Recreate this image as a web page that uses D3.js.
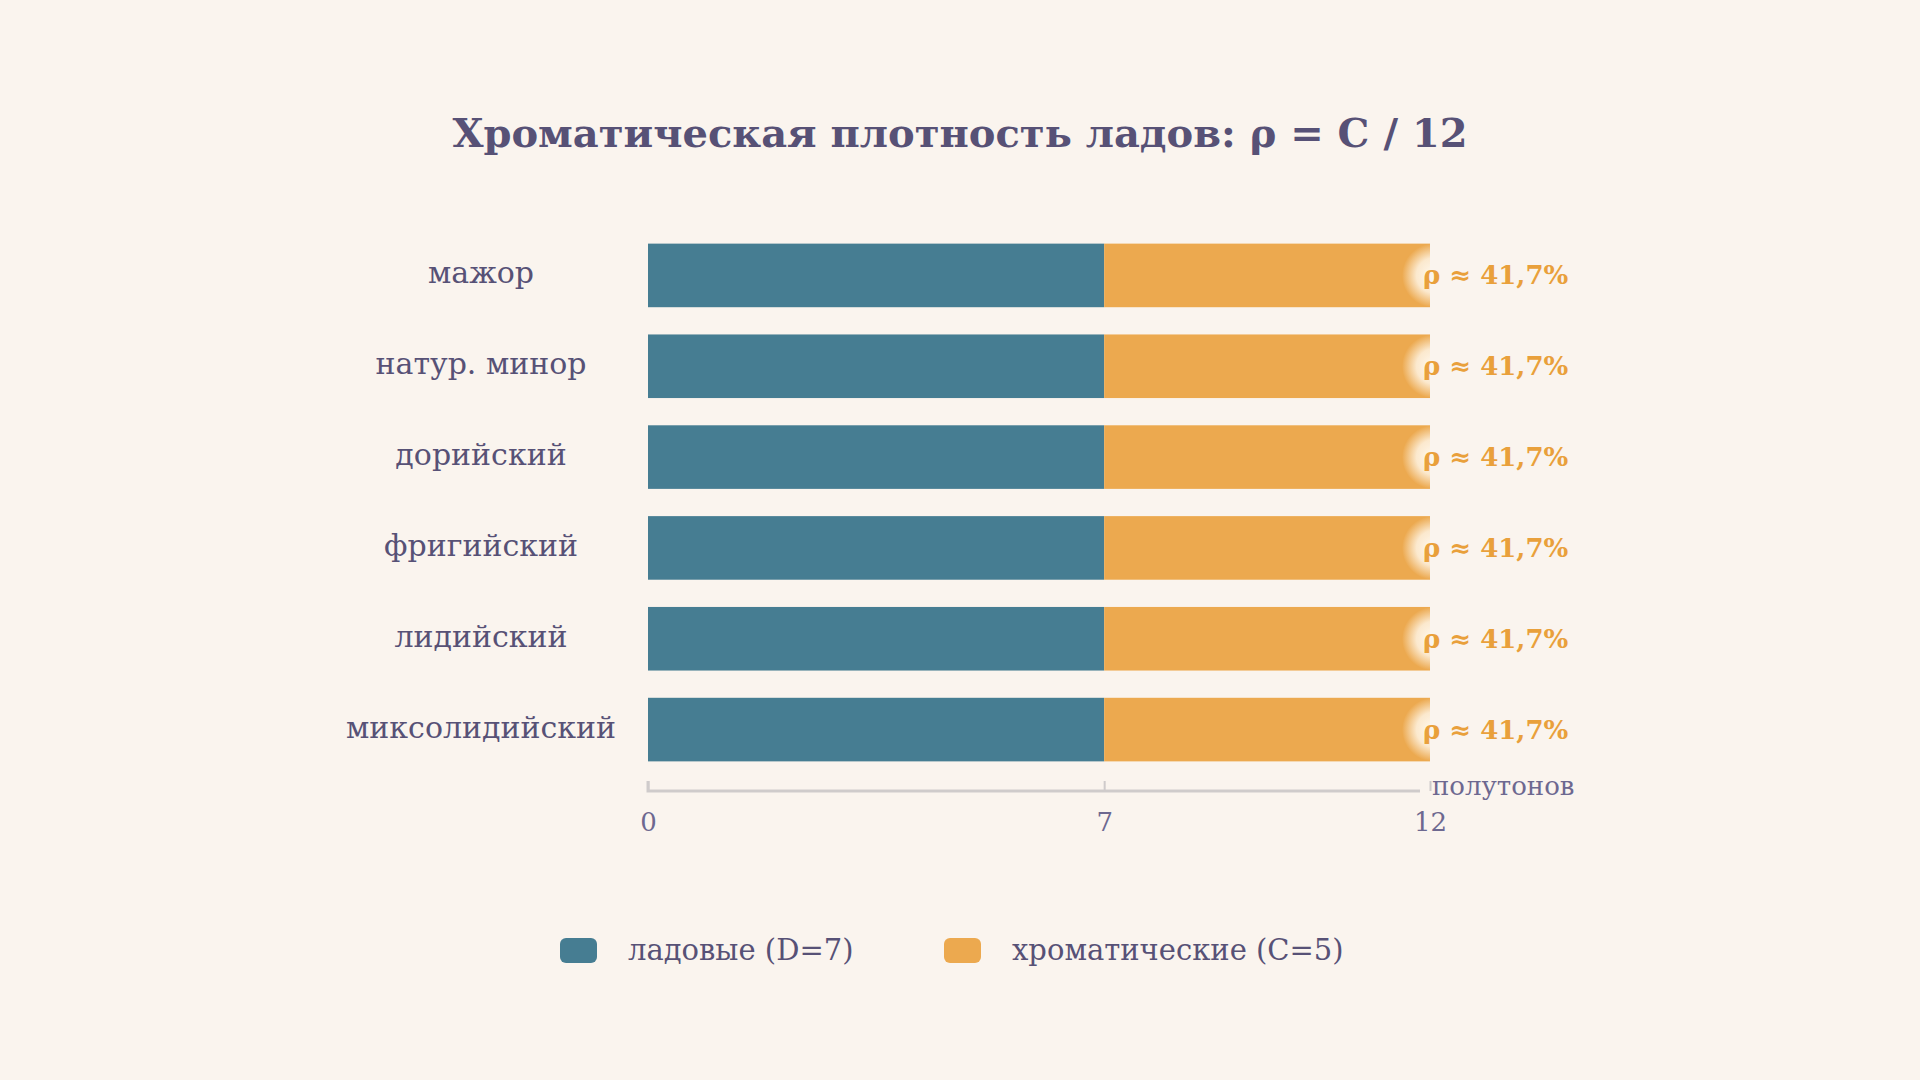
<!DOCTYPE html>
<html><head><meta charset="utf-8">
<script src="https://cdn.jsdelivr.net/npm/d3@7"></script>
<style>
body{margin:0;background:#faf4ee;}
svg{font-family:"DejaVu Serif",serif;}
</style></head>
<body><svg id="chart" width="1920" height="1080"></svg>
<script>
const modes = ["мажор", "натур. минор", "дорийский", "фригийский", "лидийский", "миксолидийский"];
const diatonic = [7, 7, 7, 7, 7, 7];
const chromatic = [5, 5, 5, 5, 5, 5];
const ticks = [0, 7, 12];
const seriesNames = ["ладовые (D=7)", "хроматические (C=5)"];
const colors = ["#467d92", "#eca94f"];
const ink = "#575176";

const svg = d3.select("#chart");
svg.append("rect").attr("width", 1920).attr("height", 1080).attr("fill", "#faf4ee");

const x = d3.scaleLinear().domain([0, 12]).range([648, 1430]);
const y = d3.scaleBand().domain(modes).range([230, 775]).paddingInner(0.3).paddingOuter(0.15);

const grad = svg.append("defs").append("radialGradient").attr("id", "glow");
grad.append("stop").attr("offset", "0%").attr("stop-color", "#fffaf2").attr("stop-opacity", 1);
grad.append("stop").attr("offset", "55%").attr("stop-color", "#fdf0dc").attr("stop-opacity", 0.9);
grad.append("stop").attr("offset", "100%").attr("stop-color", "#fdf0dc").attr("stop-opacity", 0);

svg.append("text").attr("x", 960).attr("y", 147).attr("text-anchor", "middle")
  .attr("font-size", 40).attr("font-weight", "bold").attr("fill", ink)
  .text("Хроматическая плотность ладов: ρ = C / 12");

const rows = modes.map((m, i) => ({ m, d: diatonic[i], c: chromatic[i] }));

const g = svg.append("g");
g.selectAll(".d").data(rows).join("rect")
  .attr("x", x(0)).attr("y", d => y(d.m)).attr("height", y.bandwidth())
  .attr("width", d => x(d.d) - x(0)).attr("fill", colors[0]);
g.selectAll(".c").data(rows).join("rect")
  .attr("x", d => x(d.d)).attr("y", d => y(d.m)).attr("height", y.bandwidth())
  .attr("width", d => x(d.d + d.c) - x(d.d)).attr("fill", colors[1]);

// glow at bar end, clipped to the bar
rows.forEach((d, i) => {
  const cp = svg.append("clipPath").attr("id", "cp" + i);
  cp.append("rect").attr("x", x(0)).attr("y", y(d.m)).attr("width", x(d.d + d.c) - x(0)).attr("height", y.bandwidth());
  g.append("circle").attr("cx", x(d.d + d.c) + 4).attr("cy", y(d.m) + y.bandwidth() / 2)
    .attr("r", 32).attr("fill", "url(#glow)").attr("clip-path", `url(#cp${i})`);
});

g.selectAll(".v").data(rows).join("text")
  .attr("x", d => x(d.d + d.c) - 7).attr("y", d => y(d.m) + y.bandwidth() / 2 + 9)
  .attr("font-size", 26).attr("font-weight", "bold").attr("fill", "#e9a03b")
  .text(d => "ρ ≈ " + (d.c / 12 * 100).toFixed(1).replace(".", ",") + "%");

g.selectAll(".l").data(rows).join("text")
  .attr("x", 481).attr("y", d => y(d.m) + y.bandwidth() / 2 + 8)
  .attr("text-anchor", "middle").attr("font-size", 30).attr("fill", ink)
  .text(d => d.m);

const ax = svg.append("g").attr("transform", "translate(0,791)")
  .call(d3.axisBottom(x).tickValues(ticks).tickSize(-10).tickPadding(22));
ax.select(".domain").attr("stroke", "#cfcbcb").attr("stroke-width", 3).attr("d", `M${x(0)},-10V0H${x(12) - 10}`);
ax.selectAll(".tick line").attr("stroke", "#cfcbcb").attr("stroke-width", 2);
ax.selectAll(".tick text").attr("font-family", "DejaVu Serif").attr("font-size", 26).attr("fill", "#6d6890");
svg.append("text").attr("x", 1432).attr("y", 795).attr("font-size", 26).attr("fill", "#6d6890").text("полутонов");

const legX = [560, 944];
seriesNames.forEach((n, i) => {
  svg.append("rect").attr("x", legX[i]).attr("y", 938).attr("width", 37).attr("height", 25).attr("rx", 6).attr("fill", colors[i]);
  svg.append("text").attr("x", legX[i] + 68).attr("y", 960).attr("font-size", 29).attr("fill", ink).text(n);
});
</script></body></html>
